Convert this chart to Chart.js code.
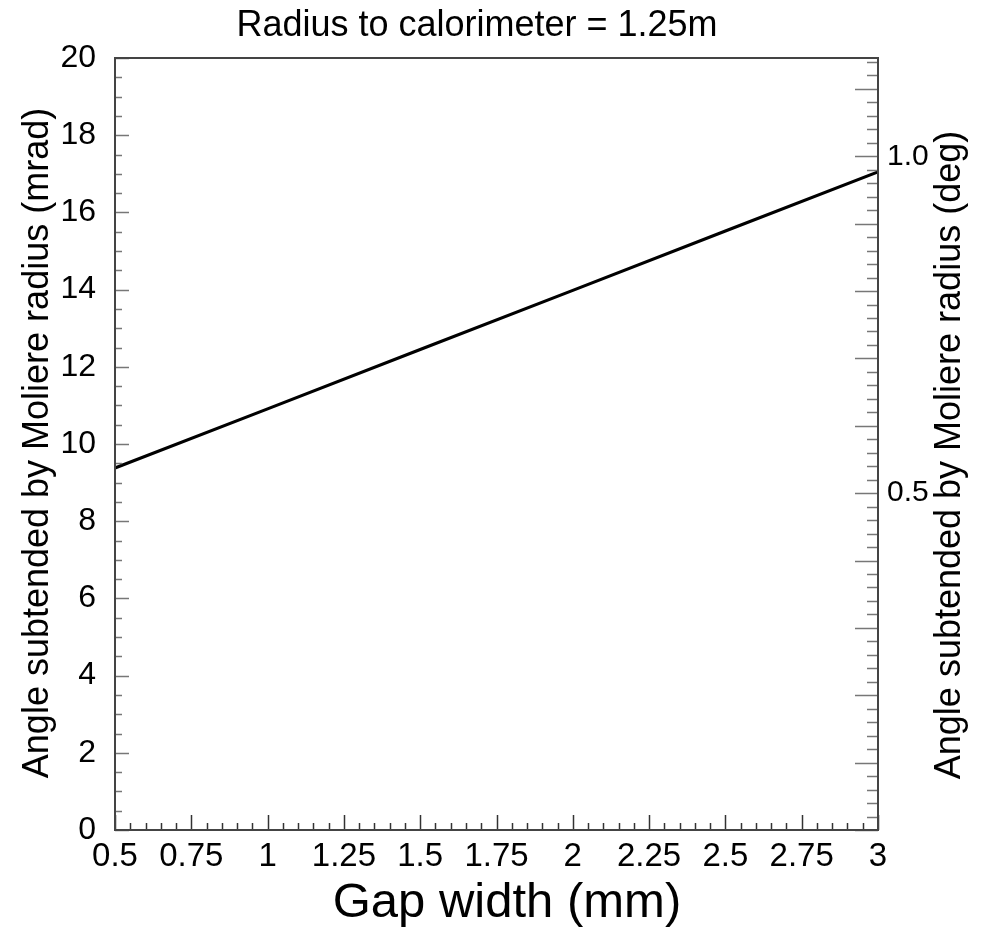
<!DOCTYPE html>
<html>
<head>
<meta charset="utf-8">
<script src="https://cdn.jsdelivr.net/npm/chart.js@4.4.1/dist/chart.umd.min.js"></script>
<style>
  html, body { margin: 0; padding: 0; background: #ffffff; }
  #wrap { width: 983px; height: 928px; position: relative; }
</style>
</head>
<body>
<div id="wrap"><canvas id="c" width="983" height="928"></canvas></div>
<script>
// ---- data ----
const gapWidthMm = [0.5, 1.0, 1.5, 2.0, 2.5, 3.0];
const angleMrad  = [9.38, 10.91, 12.45, 13.98, 15.52, 17.05];

// ---- axis / tick definitions ----
const xRange = [0.5, 3.0];
const xMajorStep = 0.25;
const xMinorStep = 0.05;
const yRange = [0, 20];
const yMajorStep = 2;
const yMinorStep = 0.5;
const degMax = 20 / 1000 * 180 / Math.PI;   // right axis spans the same angle, in degrees
const degTickLabels = [0.5, 1.0];
const degMajorStep = 0.1;
const degMinorStep = 0.02;

const titleText  = 'Radius to calorimeter = 1.25m';
const xTitleText = 'Gap width (mm)';
const yTitleText = 'Angle subtended by Moliere radius (mrad)';
const y2TitleText = 'Angle subtended by Moliere radius (deg)';

const FONT = '"Liberation Sans", Arial, Helvetica, sans-serif';

function range(a, b, step) {
  const out = [];
  const n = Math.round((b - a) / step);
  for (let i = 0; i <= n; i++) out.push(+(a + i * step).toFixed(6));
  return out;
}

const decor = {
  id: 'decor',
  afterDraw(chart) {
    const ctx = chart.ctx;
    const a = chart.chartArea;
    const sx = chart.scales.x, sy = chart.scales.y, sy2 = chart.scales.y2;
    ctx.save();

    // bottom axis ticks (pointing up into the frame)
    ctx.strokeStyle = '#333';
    ctx.lineWidth = 1.5;
    range(xRange[0], xRange[1], xMinorStep).forEach(v => {
      const px = Math.round(sx.getPixelForValue(v)) + 0.5;
      const major = Math.abs(v / xMajorStep - Math.round(v / xMajorStep)) < 1e-6;
      const len = major ? 15 : 7;
      ctx.beginPath(); ctx.moveTo(px, a.bottom); ctx.lineTo(px, a.bottom - len); ctx.stroke();
    });

    // left axis ticks
    ctx.strokeStyle = '#777';
    range(yRange[0], yRange[1], yMinorStep).forEach(v => {
      const py = Math.round(sy.getPixelForValue(v)) + 0.5;
      const major = Math.abs(v / yMajorStep - Math.round(v / yMajorStep)) < 1e-6;
      const len = major ? 14 : 7;
      ctx.beginPath(); ctx.moveTo(a.left, py); ctx.lineTo(a.left + len, py); ctx.stroke();
    });

    // right axis ticks (degrees)
    range(0, degMax, degMinorStep).forEach(v => {
      if (v > degMax) return;
      const py = Math.round(sy2.getPixelForValue(v)) + 0.5;
      const major = Math.abs(v / degMajorStep - Math.round(v / degMajorStep)) < 1e-6;
      const len = major ? 23 : 11;
      ctx.beginPath(); ctx.moveTo(a.right, py); ctx.lineTo(a.right - len, py); ctx.stroke();
    });

    // frame
    ctx.strokeStyle = '#444';
    ctx.lineWidth = 2;
    ctx.strokeRect(a.left, a.top, a.right - a.left, a.bottom - a.top);

    // titles
    ctx.fillStyle = '#000';
    ctx.textBaseline = 'alphabetic';
    ctx.textAlign = 'center';
    ctx.font = '36px ' + FONT;
    ctx.fillText(titleText, 477, 36);

    ctx.font = '49px ' + FONT;
    ctx.fillText(xTitleText, 507, 917);

    ctx.font = '36px ' + FONT;
    ctx.save();
    ctx.translate(48, 443);
    ctx.rotate(-Math.PI / 2);
    ctx.fillText(yTitleText, 0, 0);
    ctx.restore();

    ctx.font = '36px ' + FONT;
    ctx.save();
    ctx.translate(960, 455);
    ctx.rotate(-Math.PI / 2);
    ctx.fillText(y2TitleText, 0, 0);
    ctx.restore();

    ctx.restore();
  }
};

new Chart(document.getElementById('c'), {
  type: 'line',
  data: {
    datasets: [{
      data: gapWidthMm.map((g, i) => ({ x: g, y: angleMrad[i] })),
      borderColor: '#000',
      borderWidth: 3.2,
      pointRadius: 0,
      tension: 0,
      fill: false,
      yAxisID: 'y'
    }]
  },
  options: {
    responsive: false,
    animation: false,
    events: [],
    layout: { padding: { top: 58, left: 0, right: 0, bottom: 0 } },
    plugins: { legend: { display: false }, title: { display: false }, tooltip: { enabled: false } },
    scales: {
      x: {
        type: 'linear', position: 'bottom', min: xRange[0], max: xRange[1],
        grid: { display: false, drawTicks: false }, border: { display: false },
        ticks: {
          stepSize: xMajorStep, color: '#000', padding: 7, maxRotation: 0, autoSkip: false,
          font: { family: FONT, size: 33 },
          callback: v => String(+v.toFixed(2))
        },
        afterFit: s => { s.height = 98; }
      },
      y: {
        type: 'linear', position: 'left', min: yRange[0], max: yRange[1],
        grid: { display: false, drawTicks: false }, border: { display: false },
        ticks: {
          stepSize: yMajorStep, color: '#000', padding: 19,
          font: { family: FONT, size: 32 },
          callback: v => String(v)
        },
        afterFit: s => { s.width = 115; }
      },
      y2: {
        type: 'linear', position: 'right', min: 0, max: degMax,
        grid: { display: false, drawTicks: false }, border: { display: false },
        afterBuildTicks: s => { s.ticks = degTickLabels.map(v => ({ value: v })); },
        ticks: {
          color: '#000', padding: 9,
          font: { family: FONT, size: 30 },
          callback: v => Number(v).toFixed(1)
        },
        afterFit: s => { s.width = 105; }
      }
    }
  },
  plugins: [decor]
});
</script>
</body>
</html>
